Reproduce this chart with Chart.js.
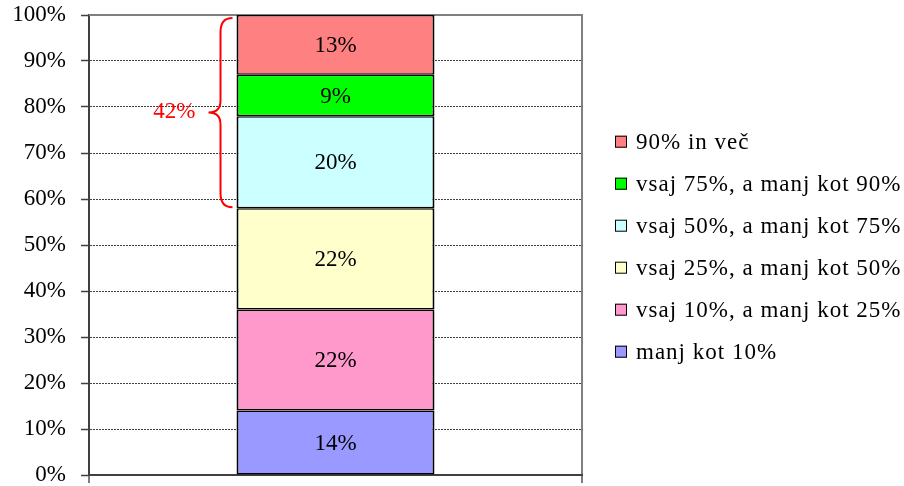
<!DOCTYPE html>
<html>
<head>
<meta charset="utf-8">
<script src="https://cdn.jsdelivr.net/npm/chart.js@4/dist/chart.umd.min.js"></script>
<style>
  html, body { margin: 0; padding: 0; background: #fff; }
  canvas { display: block; }
</style>
</head>
<body>
<canvas id="c" width="904" height="486"></canvas>
<script>
// ---- data (bottom to top of the stacked bar) ----
const categories = [''];
const seriesNames = [
  'manj kot 10%',
  'vsaj 10%, a manj kot 25%',
  'vsaj 25%, a manj kot 50%',
  'vsaj 50%, a manj kot 75%',
  'vsaj 75%, a manj kot 90%',
  '90% in več'
];
const seriesValues = [14, 22, 22, 20, 9, 13];
const seriesColors = ['#9999FF', '#FF99CC', '#FFFFCC', '#CCFFFF', '#00FF00', '#FF8080'];
const yTicks = [0, 10, 20, 30, 40, 50, 60, 70, 80, 90, 100];
const bracketSeries = [3, 4, 5]; // series grouped by the red bracket

const FONT = 'Liberation Serif, Times New Roman, serif';

const datasets = seriesNames.map((name, i) => ({
  label: name,
  data: [seriesValues[i]],
  backgroundColor: seriesColors[i],
  borderColor: '#000',
  borderWidth: { left: 2, right: 2, top: 1.5, bottom: 1.5 },
  borderSkipped: false,
  categoryPercentage: 1,
  barPercentage: 0.4016
}));

const framePlugin = {
  id: 'frame',
  beforeDatasetsDraw(chart) {
    const { ctx, chartArea: a } = chart;
    ctx.save();
    ctx.strokeStyle = '#808080';
    ctx.lineWidth = 2;
    ctx.beginPath();
    ctx.moveTo(a.left, a.top);
    ctx.lineTo(a.right + 1, a.top);
    ctx.stroke();
    ctx.restore();
  }
};

const labelsPlugin = {
  id: 'segLabels',
  afterDatasetsDraw(chart) {
    const { ctx } = chart;
    ctx.save();
    ctx.font = '23px ' + FONT;
    ctx.fillStyle = '#000';
    ctx.textAlign = 'center';
    ctx.textBaseline = 'middle';
    chart.data.datasets.forEach((ds, i) => {
      const el = chart.getDatasetMeta(i).data[0];
      const p = el.getCenterPoint();
      ctx.fillText(ds.data[0] + '%', p.x, p.y + 1);
    });
    ctx.restore();
  }
};

const bracketPlugin = {
  id: 'bracket',
  afterDatasetsDraw(chart) {
    const { ctx, scales: { y } } = chart;
    let lo = 0;
    for (let i = 0; i < bracketSeries[0]; i++) lo += seriesValues[i];
    let sum = 0;
    bracketSeries.forEach(i => sum += seriesValues[i]);
    const hi = lo + sum;
    const el = chart.getDatasetMeta(bracketSeries[0]).data[0];
    const barLeft = el.x - el.width / 2;
    const yTop = y.getPixelForValue(hi) + 3;
    const yBot = y.getPixelForValue(lo) - 1;
    const yMid = y.getPixelForValue((hi + lo) / 2) + 1;
    const xTip = barLeft - 4;
    const xV = barLeft - 16;
    const xPt = barLeft - 28;
    ctx.save();
    ctx.strokeStyle = '#FF0000';
    ctx.lineWidth = 2;
    ctx.beginPath();
    ctx.moveTo(xTip, yTop);
    ctx.quadraticCurveTo(xV, yTop, xV, yTop + 14);
    ctx.lineTo(xV, yMid - 12);
    ctx.quadraticCurveTo(xV, yMid, xPt, yMid);
    ctx.quadraticCurveTo(xV, yMid, xV, yMid + 12);
    ctx.lineTo(xV, yBot - 14);
    ctx.quadraticCurveTo(xV, yBot, xTip, yBot);
    ctx.stroke();
    ctx.font = '23px ' + FONT;
    ctx.fillStyle = '#FF0000';
    ctx.textAlign = 'right';
    ctx.textBaseline = 'middle';
    ctx.fillText(sum + '%', xPt - 13, yMid - 1);
    ctx.restore();
  }
};

const legendPlugin = {
  id: 'customLegend',
  afterDraw(chart) {
    const { ctx, chartArea: a } = chart;
    const n = seriesNames.length;
    const step = 42;
    const centerY = (a.top + a.bottom) / 2 + 1.7;
    const startY = centerY - step * (n - 1) / 2;
    const boxX = a.right + 33;
    const textX = a.right + 54;
    ctx.save();
    ctx.font = '23px ' + FONT;
    ctx.letterSpacing = '1px';
    ctx.textBaseline = 'middle';
    ctx.textAlign = 'left';
    for (let k = 0; k < n; k++) {
      const i = n - 1 - k;
      const cy = startY + k * step;
      ctx.fillStyle = seriesColors[i];
      ctx.fillRect(boxX, cy - 6, 12, 12);
      ctx.strokeStyle = '#000';
      ctx.lineWidth = 1;
      ctx.strokeRect(boxX + 0.5, cy - 5.5, 11, 11);
      ctx.fillStyle = '#000';
      ctx.fillText(seriesNames[i], textX, cy + 1);
    }
    ctx.restore();
  }
};

new Chart(document.getElementById('c'), {
  type: 'bar',
  data: { labels: categories, datasets },
  plugins: [framePlugin, labelsPlugin, bracketPlugin, legendPlugin],
  options: {
    responsive: false,
    animation: false,
    devicePixelRatio: 1,
    layout: { padding: { left: 0, right: 322, top: 15, bottom: 0 } },
    plugins: { legend: { display: false }, tooltip: { enabled: false } },
    scales: {
      x: {
        stacked: true,
        ticks: { display: false },
        grid: {
          offset: true,
          color: '#808080',
          lineWidth: 2,
          drawTicks: true,
          tickLength: 8,
          tickColor: '#505050',
          tickWidth: 1.5
        },
        border: { display: true, color: '#404040', width: 2 },
        afterFit(scale) { scale.height = 11; scale.paddingLeft = 0; scale.paddingRight = 0; }
      },
      y: {
        stacked: true,
        min: 0,
        max: 100,
        afterBuildTicks(scale) { scale.ticks = yTicks.map(v => ({ value: v })); },
        ticks: {
          padding: 15,
          color: '#000',
          font: { family: FONT, size: 23 },
          callback: v => v + '%'
        },
        grid: {
          color: '#404040',
          lineWidth: 1,
          drawTicks: true,
          tickLength: 8,
          tickColor: '#404040',
          tickWidth: 1.5
        },
        border: { display: true, color: '#404040', width: 2, dash: [2, 1] },
        afterFit(scale) { scale.width = 89; scale.paddingTop = 0; scale.paddingBottom = 0; }
      }
    }
  }
});
</script>
</body>
</html>
